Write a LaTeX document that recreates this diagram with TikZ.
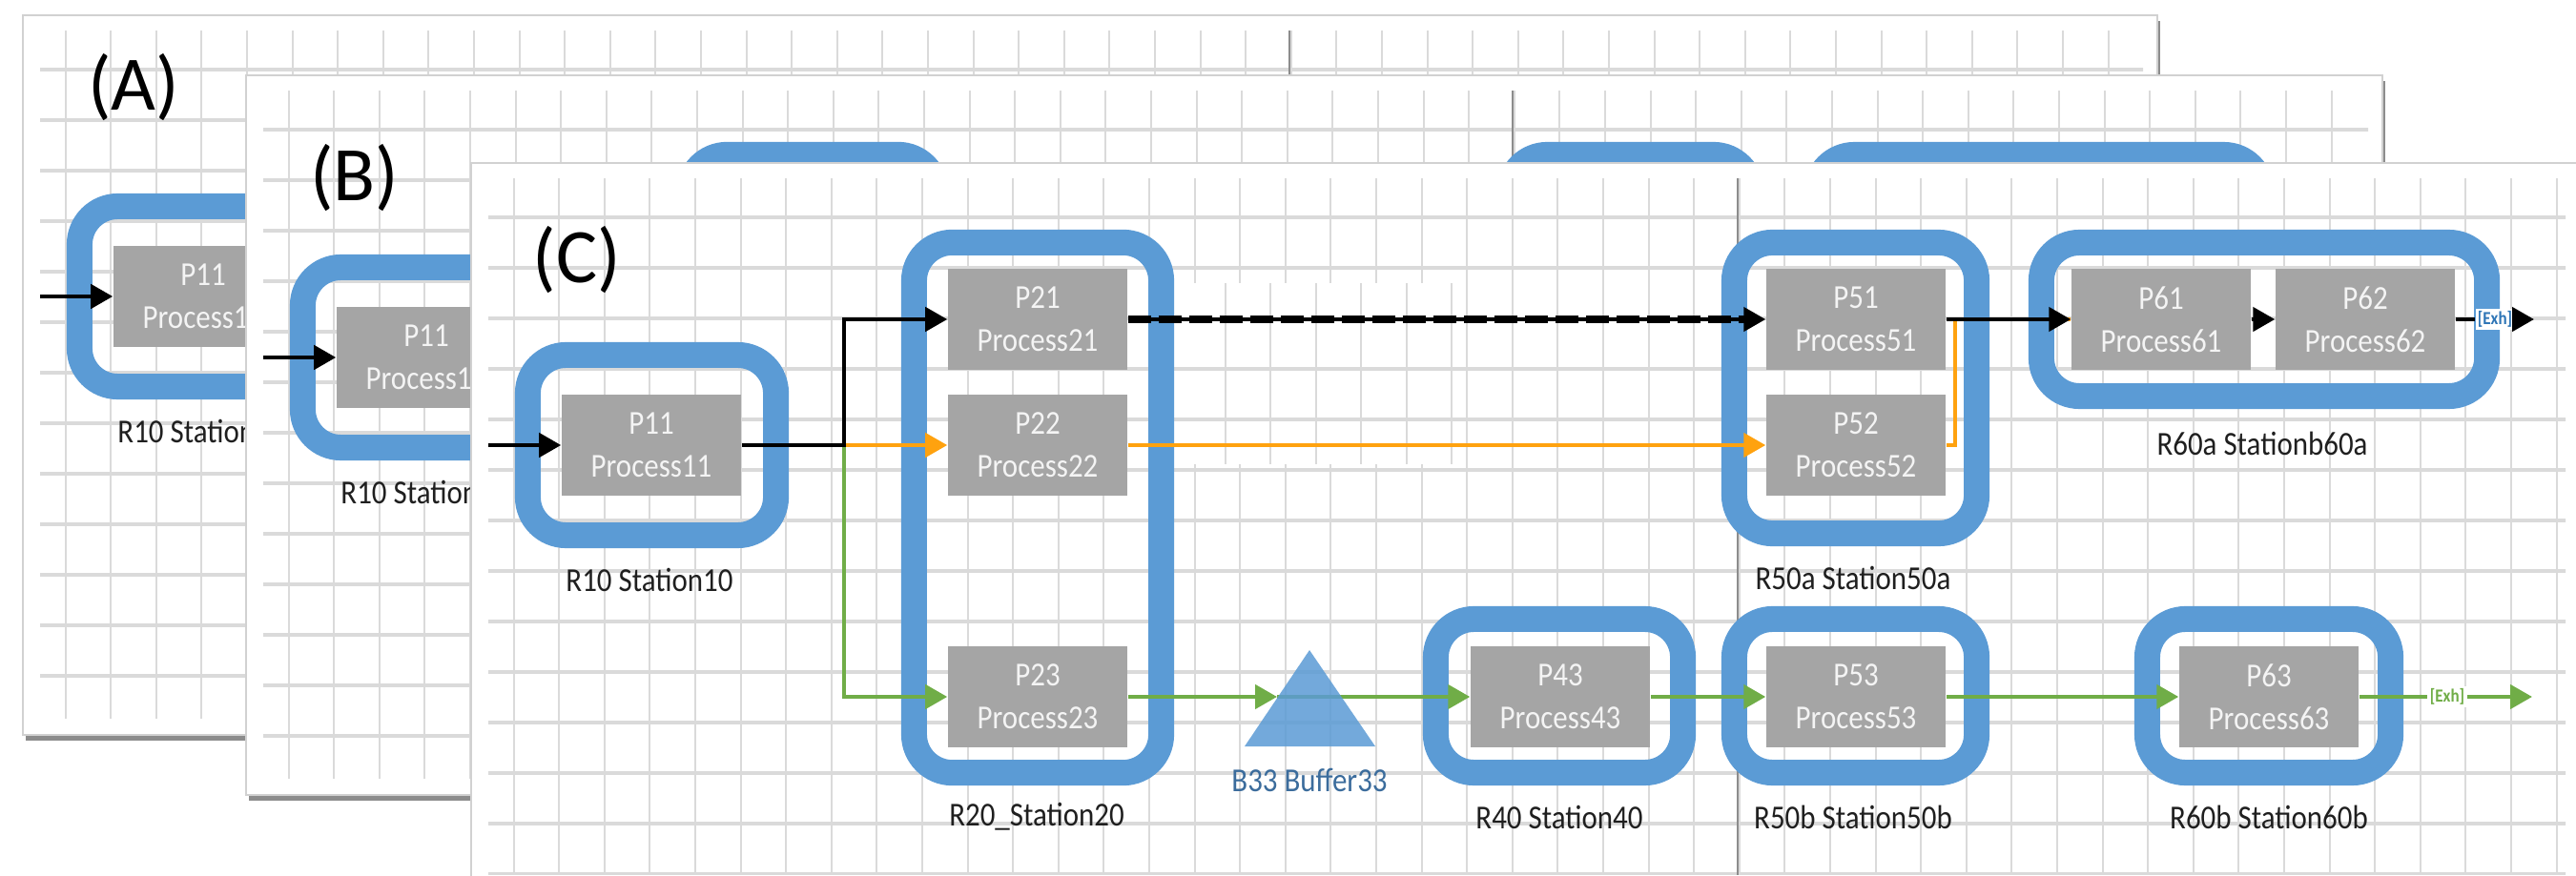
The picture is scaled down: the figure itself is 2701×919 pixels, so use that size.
\documentclass[tikz,border=0pt]{standalone}
\usepackage{fontspec}
\setmainfont{Carlito}
\newfontfamily\condfont{Carlito}[FakeStretch=0.88]
\usepackage{tikz}
\usetikzlibrary{arrows.meta}
\usetikzlibrary{positioning}
\usepackage{xcolor}

\definecolor{stblue}{HTML}{5B9BD5}
\definecolor{boxgray}{HTML}{A5A5A5}
\definecolor{boxtext}{HTML}{F4F4F4}
\definecolor{flowor}{HTML}{FFA20F}
\definecolor{flowgr}{HTML}{70AD47}
\definecolor{bufblue}{HTML}{3B6C9C}
\definecolor{gridgray}{HTML}{DADADA}
\definecolor{exhblue}{HTML}{2E75B6}

\tikzset{
  proc/.style={rectangle, fill=boxgray, text=boxtext, minimum width=1.88cm,
    minimum height=1.05cm, inner sep=0pt, align=center,
    font=\condfont\fontsize{10}{12.8}\selectfont},
  station/.style={rectangle, draw=stblue, line width=0.27cm,
    rounded corners=0.4cm, inner sep=0pt},
  stlabel/.style={inner sep=0pt, text=black!88,
    font=\condfont\fontsize{10}{12}\selectfont},
  tag/.style={inner sep=0pt, font=\fontsize{23}{23}\selectfont},
  exh/.style={fill=white, inner sep=0.6pt,
    font=\condfont\bfseries\fontsize{5.5}{6}\selectfont},
  bkline/.style={black, line width=0.045cm},
  orline/.style={flowor, line width=0.045cm},
  grline/.style={flowgr, line width=0.045cm},
}

% paper: shadow, sheet, grid and page break (left, top, right, bottom)
\newcommand{\papersheet}[4]{%
  \fill[black!45] (#1+3,#2+6) rectangle (#3+3,#4+6);
  \fill[white] (#1,#2) rectangle (#3,#4);
  \draw[black!18, line width=0.02cm] (#1,#2) rectangle (#3,#4);
  \begin{scope}
    \clip (#1+18,#2+17) rectangle (#3-15,#4-18);
    \foreach \k in {0,...,16}
      \draw[gridgray, line width=0.035cm] (#1,#2+57+53*\k) -- (#3,#2+57+53*\k);
    \foreach \k in {0,...,47}
      \draw[gridgray, line width=0.02cm] (#1+44.5+47.6*\k,#2) -- (#1+44.5+47.6*\k,#4);
    \draw[black!45, line width=0.02cm] (#1+1328,#2) -- (#1+1328,#4);
  \end{scope}
}

% station frames, names start with #1
\newcommand{\stations}[1]{%
  \node[station, minimum width=2.60cm, minimum height=1.89cm] (#1r10) at (683.5,467) {};
  \node[station, minimum width=2.59cm, minimum height=5.56cm] (#1r20) at (1088,532.5) {};
  \node[station, minimum width=2.59cm, minimum height=1.61cm] (#1r40) at (1635,730) {};
  \node[station, minimum width=2.54cm, minimum height=3.05cm] (#1r50a) at (1945.5,407) {};
  \node[station, minimum width=2.54cm, minimum height=1.61cm] (#1r50b) at (1945.5,730) {};
  \node[station, minimum width=4.67cm, minimum height=1.61cm] (#1r60a) at (2374,335) {};
  \node[station, minimum width=2.55cm, minimum height=1.61cm] (#1r60b) at (2379,730) {};
}

% first station with its feed
\newcommand{\firstcell}[1]{%
  \node[proc] (#1p11) at (683,467) {P11\\Process11};
  \node[stlabel] (#1n10) at (681,608) {R10 Station10};
  \coordinate (#1in) at (512,467);
  \draw[bkline,->] (#1in) -- (#1p11.west);
}

% the rest of the line
\newcommand{\restcells}[1]{%
  % processes
  \node[proc] (#1p21) at (1088,335) {P21\\Process21};
  \node[proc] (#1p22) at (1088,467) {P22\\Process22};
  \node[proc] (#1p23) at (1088,731) {P23\\Process23};
  \node[proc] (#1p43) at (1636,731) {P43\\Process43};
  \node[proc] (#1p51) at (1946,335) {P51\\Process51};
  \node[proc] (#1p52) at (1946,467) {P52\\Process52};
  \node[proc] (#1p53) at (1946,731) {P53\\Process53};
  \node[proc] (#1p61) at (2266,335) {P61\\Process61};
  \node[proc] (#1p62) at (2480,335) {P62\\Process62};
  \node[proc] (#1p63) at (2379,731) {P63\\Process63};
  % station names
  \node[stlabel] (#1n20) at (1087,857) {R20\_Station20};
  \node[stlabel, text=bufblue] (#1n33) at (1373,818) {B33 Buffer33};
  \node[stlabel] (#1n40) at (1635,857) {R40 Station40};
  \node[stlabel] (#1n50a) at (1943,606) {R50a Station50a};
  \node[stlabel] (#1n50b) at (1943,857) {R50b Station50b};
  \node[stlabel] (#1n60a) at (2372,465) {R60a Stationb60a};
  \node[stlabel] (#1n60b) at (2379,857) {R60b Station60b};
  % points
  \coordinate (#1jn) at (885,467);
  \coordinate (#1b33) at (1373,682);
  \coordinate (#1b33w) at (1339,731);
  \coordinate (#1out1) at (2657,335);
  \coordinate (#1out2) at (2655,731);
  % upper lines
  \draw[grline,->] (#1jn) |- (#1p23.west);
  \draw[orline,->] (#1jn) -- (#1p22.west);
  \draw[bkline,->] (#1p11.east) -- (#1jn) |- (#1p21.west);
  \draw[bkline,->] (#1p21.east) -- (#1p51.west);
  \draw[black, line width=0.075cm, dash pattern=on 0.24cm off 0.08cm] (#1p21.east) -- ([xshift=-0.2cm]#1p51.west);
  \draw[orline,->] (#1p22.east) -- (#1p52.west);
  \draw[orline] (#1p52.east) -- ++(9,0) |- (#1p61.west);
  \draw[bkline,->] (#1p51.east) -- (#1p61.west);
  \draw[bkline,->] (#1p61.east) -- (#1p62.west);
  \node[exh, text=exhblue] (#1exh1) at (2616,335) {[Exh]};
  \draw[bkline] (#1p62.east) -- (#1exh1.west);
  \draw[bkline,->] (#1exh1.east) -- (#1out1);
  % lower lines
  \draw[grline,->] (#1p23.east) -- (#1b33w);
  \draw[grline,->] (#1b33w) -- (#1p43.west);
  \fill[stblue, fill opacity=0.85] (#1b33) -- ++(69,101) -- ++(-137,0) -- cycle;
  \draw[grline,->] (#1p43.east) -- (#1p53.west);
  \draw[grline,->] (#1p53.east) -- (#1p63.west);
  \node[exh, text=flowgr] (#1exh2) at (2566,731) {[Exh]};
  \draw[grline] (#1p63.east) -- (#1exh2.west);
  \draw[grline,->] (#1exh2.east) -- (#1out2);
}

\begin{document}
\begin{tikzpicture}[x=0.01cm,y=-0.01cm,>={Triangle[length=0.23cm,width=0.25cm]}]
  \useasboundingbox (0,0) rectangle (2701,919);

  % sheet (A)
  \papersheet{24}{16}{2262}{771}
  \begin{scope}
    \clip (24,16) rectangle (2262,771);
    \begin{scope}[shift={(-470,-156)}]
      \stations{a}
      \firstcell{a}
    \end{scope}
  \end{scope}
  \node[tag] (taga) at (140,92) {(A)};

  % sheet (B)
  \papersheet{258}{79}{2498}{834}
  \begin{scope}
    \clip (258,79) rectangle (2498,834);
    \begin{scope}[shift={(-236,-92)}]
      \stations{b}
      \firstcell{b}
    \end{scope}
  \end{scope}
  \node[tag] (tagb) at (372,187) {(B)};

  % sheet (C)
  \papersheet{494}{171}{2705}{935}
  % pasted patch, grid a little off
  \begin{scope}
    \clip (1240,297) rectangle (1525,487);
    \fill[white] (1240,297) rectangle (1525,487);
    \foreach \k in {0,...,5}
      \draw[gridgray, line width=0.02cm] (1285+47.4*\k,297) -- (1285+47.4*\k,487);
    \foreach \k in {0,1}
      \draw[gridgray, line width=0.035cm] (1240,387+53*\k) -- (1525,387+53*\k);
  \end{scope}
  \stations{c}
  \firstcell{c}
  \restcells{c}
  \node[tag] (tagc) at (605,273) {(C)};

\end{tikzpicture}
\end{document}
